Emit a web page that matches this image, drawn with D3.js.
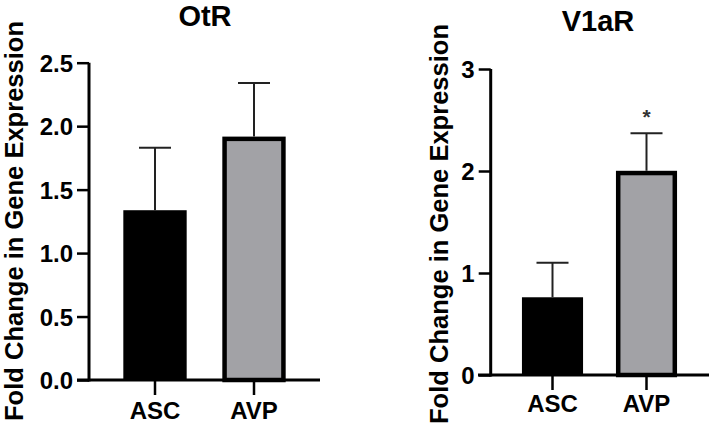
<!DOCTYPE html>
<html><head><meta charset="utf-8">
<script src="https://cdn.jsdelivr.net/npm/d3@7"></script>
<style>body{margin:0;background:#fff}svg{display:block}text{font-family:Arial,"Liberation Sans",sans-serif;font-weight:bold;fill:#000}</style>
</head><body>
<script>
const categories = ["ASC", "AVP"];
const otrMean = [1.32, 1.90];
const otrErr = [0.51, 0.44];
const v1arMean = [0.74, 1.98];
const v1arErr = [0.36, 0.39];
const otrTicks = [0, 0.5, 1.0, 1.5, 2.0, 2.5];
const v1arTicks = [0, 1, 2, 3];
const significance = ["", "*"];
const yLabel = "Fold Change in Gene Expression";

const svg = d3.select("body").append("svg").attr("width", 709).attr("height", 425);

function panel(cfg) {
  const g = svg.append("g");
  const y = d3.scaleLinear().domain(cfg.domain).range([cfg.y0, cfg.y1]);
  const x = d3.scaleBand().domain(categories).range(cfg.xr).paddingInner(cfg.pi).paddingOuter(cfg.po);
  const bw = x.bandwidth();
  const sw = 4.5;
  categories.forEach((c, i) => {
    const v = cfg.mean[i];
    if (i === 0) {
      g.append("rect").attr("x", x(c)).attr("width", bw)
        .attr("y", y(v) - sw / 2).attr("height", y(0) - y(v) + sw / 2).attr("fill", "#000");
    } else {
      g.append("rect").attr("x", x(c) + sw / 2).attr("width", bw - sw)
        .attr("y", y(v)).attr("height", y(0) - y(v)).attr("fill", "#a2a2a6")
        .attr("stroke", "#000").attr("stroke-width", sw);
    }
    const cx = x(c) + bw / 2;
    const top = y(v + cfg.err[i]);
    g.append("line").attr("x1", cx).attr("x2", cx).attr("y1", y(v) - sw / 2).attr("y2", top)
      .attr("stroke", "#222").attr("stroke-width", 2);
    g.append("line").attr("x1", cx - 16).attr("x2", cx + 16).attr("y1", top).attr("y2", top)
      .attr("stroke", "#222").attr("stroke-width", 2);
    if (cfg.sig && cfg.sig[i]) {
      g.append("text").attr("x", cx).attr("y", top - 9).attr("text-anchor", "middle")
        .style("font-size", "21px").style("fill", "#333").text(cfg.sig[i]);
    }
  });
  const ya = d3.axisLeft(y).tickValues(cfg.ticks).tickFormat(cfg.fmt).tickSize(12).tickSizeOuter(0).tickPadding(4);
  const yg = g.append("g").attr("transform", `translate(${cfg.ax},0)`).call(ya);
  yg.select(".domain").attr("stroke", "#000").attr("stroke-width", 3).attr("d", `M0,${cfg.y1}V${cfg.y0 + 1.5}`);
  yg.selectAll(".tick line").attr("stroke", "#000").attr("stroke-width", 2.5);
  yg.selectAll(".tick text").style("font-size", "24px").attr("dy", "0.36em").attr("x", -16);
  g.append("line").attr("x1", cfg.xl0).attr("x2", cfg.xl1).attr("y1", y(0)).attr("y2", y(0))
    .attr("stroke", "#000").attr("stroke-width", 3);
  categories.forEach(c => {
    const cx = x(c) + bw / 2;
    g.append("line").attr("x1", cx).attr("x2", cx).attr("y1", y(0)).attr("y2", y(0) + 15)
      .attr("stroke", "#000").attr("stroke-width", 2.5);
    g.append("text").attr("x", cx).attr("y", cfg.xlabY).attr("text-anchor", "middle")
      .style("font-size", "24px").text(c);
  });
  g.append("text").attr("x", cfg.tx).attr("y", cfg.ty).attr("text-anchor", "middle")
    .style("font-size", "29px").text(cfg.title);
  g.append("text").attr("transform", `translate(${cfg.lx},${cfg.ly}) rotate(-90)`)
    .attr("text-anchor", "middle").style("font-size", "26px")
    .attr("textLength", 400).attr("lengthAdjust", "spacingAndGlyphs").text(yLabel);
}

panel({domain: [0, 2.5], y0: 380, y1: 62.7, xr: [105.5, 303.5], pi: 0.36, po: 0.18,
  mean: otrMean, err: otrErr, ticks: otrTicks, fmt: d3.format(".1f"), ax: 89,
  xl0: 77, xl1: 320, xlabY: 419, title: "OtR", tx: 205, ty: 26, lx: 23, ly: 221});

panel({domain: [0, 3], y0: 375, y1: 69, xr: [503.15, 695.85], pi: 0.35, po: 0.2,
  mean: v1arMean, err: v1arErr, ticks: v1arTicks, fmt: d3.format("d"), ax: 490.7,
  xl0: 478, xl1: 709, xlabY: 412, title: "V1aR", tx: 598, ty: 31, lx: 448, ly: 224, sig: significance});
</script>
</body></html>
